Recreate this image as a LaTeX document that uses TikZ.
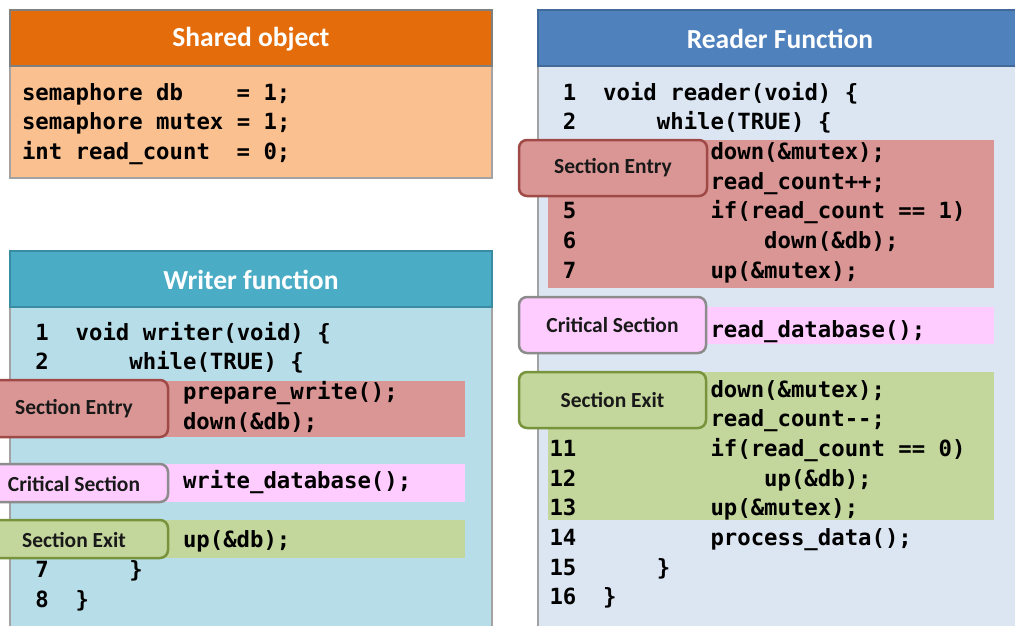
\documentclass[tikz,border=0pt]{standalone}
\usepackage{fontspec}
\setmainfont{Carlito}
\newfontfamily\codefont{DejaVu Sans Mono}
\definecolor{orangeH}{HTML}{E46C0A}
\definecolor{orangeB}{HTML}{FAC090}
\definecolor{blueH}{HTML}{4F81BD}
\definecolor{blueHB}{HTML}{41699A}
\definecolor{blueB}{HTML}{DCE6F2}
\definecolor{tealH}{HTML}{4BACC6}
\definecolor{tealHB}{HTML}{3A8CA2}
\definecolor{tealB}{HTML}{B7DDE8}
\definecolor{boxgray}{HTML}{A3A3A3}
\definecolor{redF}{HTML}{D99694}
\definecolor{redD}{HTML}{A04A48}
\definecolor{pinkF}{HTML}{FFCCFF}
\definecolor{pinkD}{HTML}{8C8C8C}
\definecolor{greenF}{HTML}{C3D69B}
\definecolor{greenD}{HTML}{77933C}
\tikzset{
  code/.style={anchor=base west,inner sep=0pt,outer sep=0pt,font=\codefont\bfseries\fontsize{22.3}{29.7}\selectfont,text=black},
  headtext/.style={inner sep=0pt,font=\bfseries\fontsize{27.5}{30}\selectfont,text=white},
  labeltext/.style={inner sep=0pt,font=\bfseries\fontsize{21.5}{24}\selectfont,text=black!90},
  lbl/.style={line width=2.5pt,rounded corners=8pt},
  bodybox/.style={draw=boxgray,line width=1.5pt},
  headbox/.style={line width=2pt}
}
\begin{document}
\begin{tikzpicture}[x=1pt,y=-1pt]
\useasboundingbox (0,0) rectangle (1015,625);
\clip (0,0) rectangle (1015,625);
% ---------- Shared object ----------
\draw[bodybox,fill=orangeB] (10,66) rectangle (492,178);
\draw[headbox,fill=orangeH,draw=gray] (10,10) rectangle (492,66);
\node[headtext] (sharedT) at (251,39) {Shared object};
\node[code] (s1a) at (22,100) {semaphore db};
\node[code] (s1b) at (236.7,100) {= 1;};
\node[code] (s2) at (22,129.7) {semaphore mutex = 1;};
\node[code] (s3a) at (22,159.4) {int read\_count};
\node[code] (s3b) at (236.7,159.4) {= 0;};
% ---------- Writer function ----------
\draw[bodybox,fill=tealB] (10,307) rectangle (492,660);
\draw[headbox,fill=tealH,draw=tealHB] (10,251) rectangle (492,307);
\node[headtext] (writerT) at (251,280) {Writer function};
\fill[redF] (165,381) rectangle (465,437);
\fill[pinkF] (165,464) rectangle (465,502);
\fill[greenF] (165,520) rectangle (465,558);
\node[code] (w1n) at (35.4,340) {1};
\node[code] (w1) at (75.7,340) {void writer(void) \{};
\node[code] (w2n) at (35.4,369.7) {2};
\node[code] (w2) at (129.4,369.7) {while(TRUE) \{};
\node[code] (w3) at (183,399.4) {prepare\_write();};
\node[code] (w4) at (183,429.1) {down(\&db);};
\node[code] (w6) at (183,488.5) {write\_database();};
\node[code] (w8) at (183,547.9) {up(\&db);};
\node[code] (w9n) at (35.4,577.6) {7};
\node[code] (w9) at (129.4,577.6) {\}};
\node[code] (w10n) at (35.4,607.3) {8};
\node[code] (w10) at (75.7,607.3) {\}};
\draw[lbl,fill=redF,draw=redD] (-20,380) rectangle (168,437);
\node[labeltext] (wEntry) at (74,409) {Section Entry};
\draw[lbl,fill=pinkF,draw=pinkD] (-20,464) rectangle (168,502);
\node[labeltext] (wCrit) at (74,484) {Critical Section};
\draw[lbl,fill=greenF,draw=greenD] (-20,520) rectangle (168,558);
\node[labeltext] (wExit) at (74,540) {Section Exit};
% ---------- Reader function ----------
\draw[bodybox,fill=blueB] (538,66) rectangle (1030,660);
\draw[headbox,fill=blueH,draw=blueHB] (538,10) rectangle (1022,66);
\node[headtext] (readerT) at (780,39) {Reader Function};
\fill[redF] (548,140) rectangle (994,288);
\fill[pinkF] (706,307) rectangle (994,344);
\fill[greenF] (548,372) rectangle (994,520);
\node[code] (r1n) at (562.9,100) {1};
\node[code] (r1) at (603.2,100) {void reader(void) \{};
\node[code] (r2n) at (562.9,129.7) {2};
\node[code] (r2) at (656.9,129.7) {while(TRUE) \{};
\node[code] (r3) at (710.5,159.4) {down(\&mutex);};
\node[code] (r4) at (710.5,189.1) {read\_count++;};
\node[code] (r5n) at (562.9,218.8) {5};
\node[code] (r5) at (710.5,218.8) {if(read\_count == 1)};
\node[code] (r6n) at (562.9,248.5) {6};
\node[code] (r6) at (764.2,248.5) {down(\&db);};
\node[code] (r7n) at (562.9,278.2) {7};
\node[code] (r7) at (710.5,278.2) {up(\&mutex);};
\node[code] (r8) at (710.5,337.6) {read\_database();};
\node[code] (r9) at (710.5,397) {down(\&mutex);};
\node[code] (r10) at (710.5,426.7) {read\_count--;};
\node[code] (r11n) at (549.5,456.4) {11};
\node[code] (r11) at (710.5,456.4) {if(read\_count == 0)};
\node[code] (r12n) at (549.5,486.1) {12};
\node[code] (r12) at (764.2,486.1) {up(\&db);};
\node[code] (r13n) at (549.5,515.8) {13};
\node[code] (r13) at (710.5,515.8) {up(\&mutex);};
\node[code] (r14n) at (549.5,545.5) {14};
\node[code] (r14) at (710.5,545.5) {process\_data();};
\node[code] (r15n) at (549.5,575.2) {15};
\node[code] (r15) at (656.9,575.2) {\}};
\node[code] (r16n) at (549.5,604.9) {16};
\node[code] (r16) at (603.2,604.9) {\}};
\draw[lbl,fill=redF,draw=redD] (519,140) rectangle (707,196);
\node[labeltext] (rEntry) at (613,168) {Section Entry};
\draw[lbl,fill=pinkF,draw=pinkD] (519,297) rectangle (706,353);
\node[labeltext] (rCrit) at (612.5,325) {Critical Section};
\draw[lbl,fill=greenF,draw=greenD] (519,372) rectangle (706,428);
\node[labeltext] (rExit) at (612.5,400) {Section Exit};
\end{tikzpicture}
\end{document}
